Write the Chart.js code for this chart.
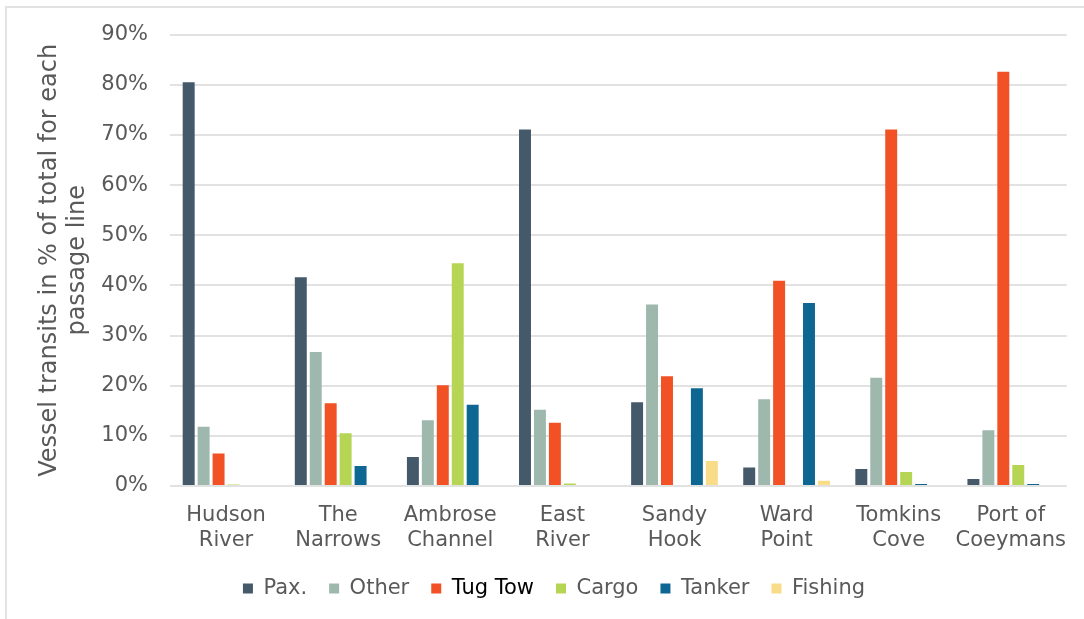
<!DOCTYPE html>
<html>
<head>
<meta charset="utf-8">
<script src="https://cdn.jsdelivr.net/npm/chart.js@4"></script>
<style>
  html, body { margin: 0; padding: 0; background: #fff; }
  #wrap { position: relative; width: 1084px; height: 619px; }
  #frame {
    position: absolute; left: 5px; top: 6px; right: 0; bottom: 0;
    border-top: 2px solid #e2e2e2; border-left: 2px solid #e2e2e2;
    pointer-events: none;
  }
</style>
</head>
<body>
<div id="wrap">
  <canvas id="chart" width="1084" height="619"></canvas>
  <div id="frame"></div>
</div>
<script>
const categories = [
  ["Hudson", "River"], ["The", "Narrows"], ["Ambrose", "Channel"], ["East", "River"],
  ["Sandy", "Hook"], ["Ward", "Point"], ["Tomkins", "Cove"], ["Port of", "Coeymans"]
];
const seriesNames = ["Pax.", "Other", "Tug Tow", "Cargo", "Tanker", "Fishing"];
const seriesColors = ["#44596a", "#9fb8ae", "#f15124", "#b6d554", "#0e6693", "#f9dc87"];

// % of total for each passage line
const pax     = [80.5, 41.6,  5.8, 71.1, 16.7,  3.7,  3.4,  1.4];
const other   = [11.8, 26.7, 13.1, 15.2, 36.2, 17.3, 21.6, 11.1];
const tugTow  = [ 6.5, 16.5, 20.1, 12.6, 21.9, 40.9, 71.1, 82.6];
const cargo   = [ 0.3, 10.5, 44.4,  0.5,  0,    0,    2.8,  4.2];
const tanker  = [ 0,    4.0, 16.2,  0,   19.5, 36.5,  0.4,  0.4];
const fishing = [ 0,    0,    0,    0,    5.0,  1.05, 0,    0];

const yTicks = [0, 10, 20, 30, 40, 50, 60, 70, 80, 90];
const yTitle = ["Vessel transits in % of total for each", "passage line"];

const seriesValues = [pax, other, tugTow, cargo, tanker, fishing];
const textGray = "#595959";
const font = { family: "'DejaVu Sans', Verdana, sans-serif", size: 21 };

const datasets = seriesNames.map((name, i) => ({
  label: name,
  data: seriesValues[i],
  backgroundColor: seriesColors[i],
  borderWidth: 0,
  categoryPercentage: 0.8,
  barPercentage: 0.8
}));

new Chart(document.getElementById("chart"), {
  type: "bar",
  data: { labels: categories, datasets },
  options: {
    responsive: false,
    animation: false,
    // left padding shifts the legend centre to the right, like the original
    layout: { padding: { top: 31, right: 16, bottom: 10, left: 40 } },
    scales: {
      x: {
        afterFit: scale => { scale.height = 70; },
        grid: { display: false, drawTicks: false },
        border: { display: false },
        ticks: { color: textGray, font, padding: 17, maxRotation: 0, autoSkip: false }
      },
      y: {
        min: 0,
        max: 90,
        afterFit: scale => { scale.width = 130; },
        afterBuildTicks: scale => { scale.ticks = yTicks.map(v => ({ value: v })); },
        grid: { color: "#e2e2e2", lineWidth: 2, drawTicks: false },
        border: { display: false },
        ticks: { color: textGray, font, padding: 22, callback: v => v + "%" },
        title: {
          display: true,
          text: yTitle,
          color: textGray,
          font: { family: font.family, size: 24, lineHeight: 1.167 },
          padding: { top: -4, bottom: 0 }
        }
      }
    },
    plugins: {
      tooltip: { enabled: false },
      legend: {
        position: "bottom",
        labels: {
          font,
          color: textGray,
          boxWidth: 10,
          boxHeight: 10,
          padding: 22,
          generateLabels: chart => {
            const items = Chart.defaults.plugins.legend.labels.generateLabels(chart);
            items.forEach(it => {
              it.fontColor = it.text === "Tug Tow" ? "#000" : textGray;
              it.lineWidth = 0;
            });
            return items;
          }
        }
      }
    }
  }
});
</script>
</body>
</html>
